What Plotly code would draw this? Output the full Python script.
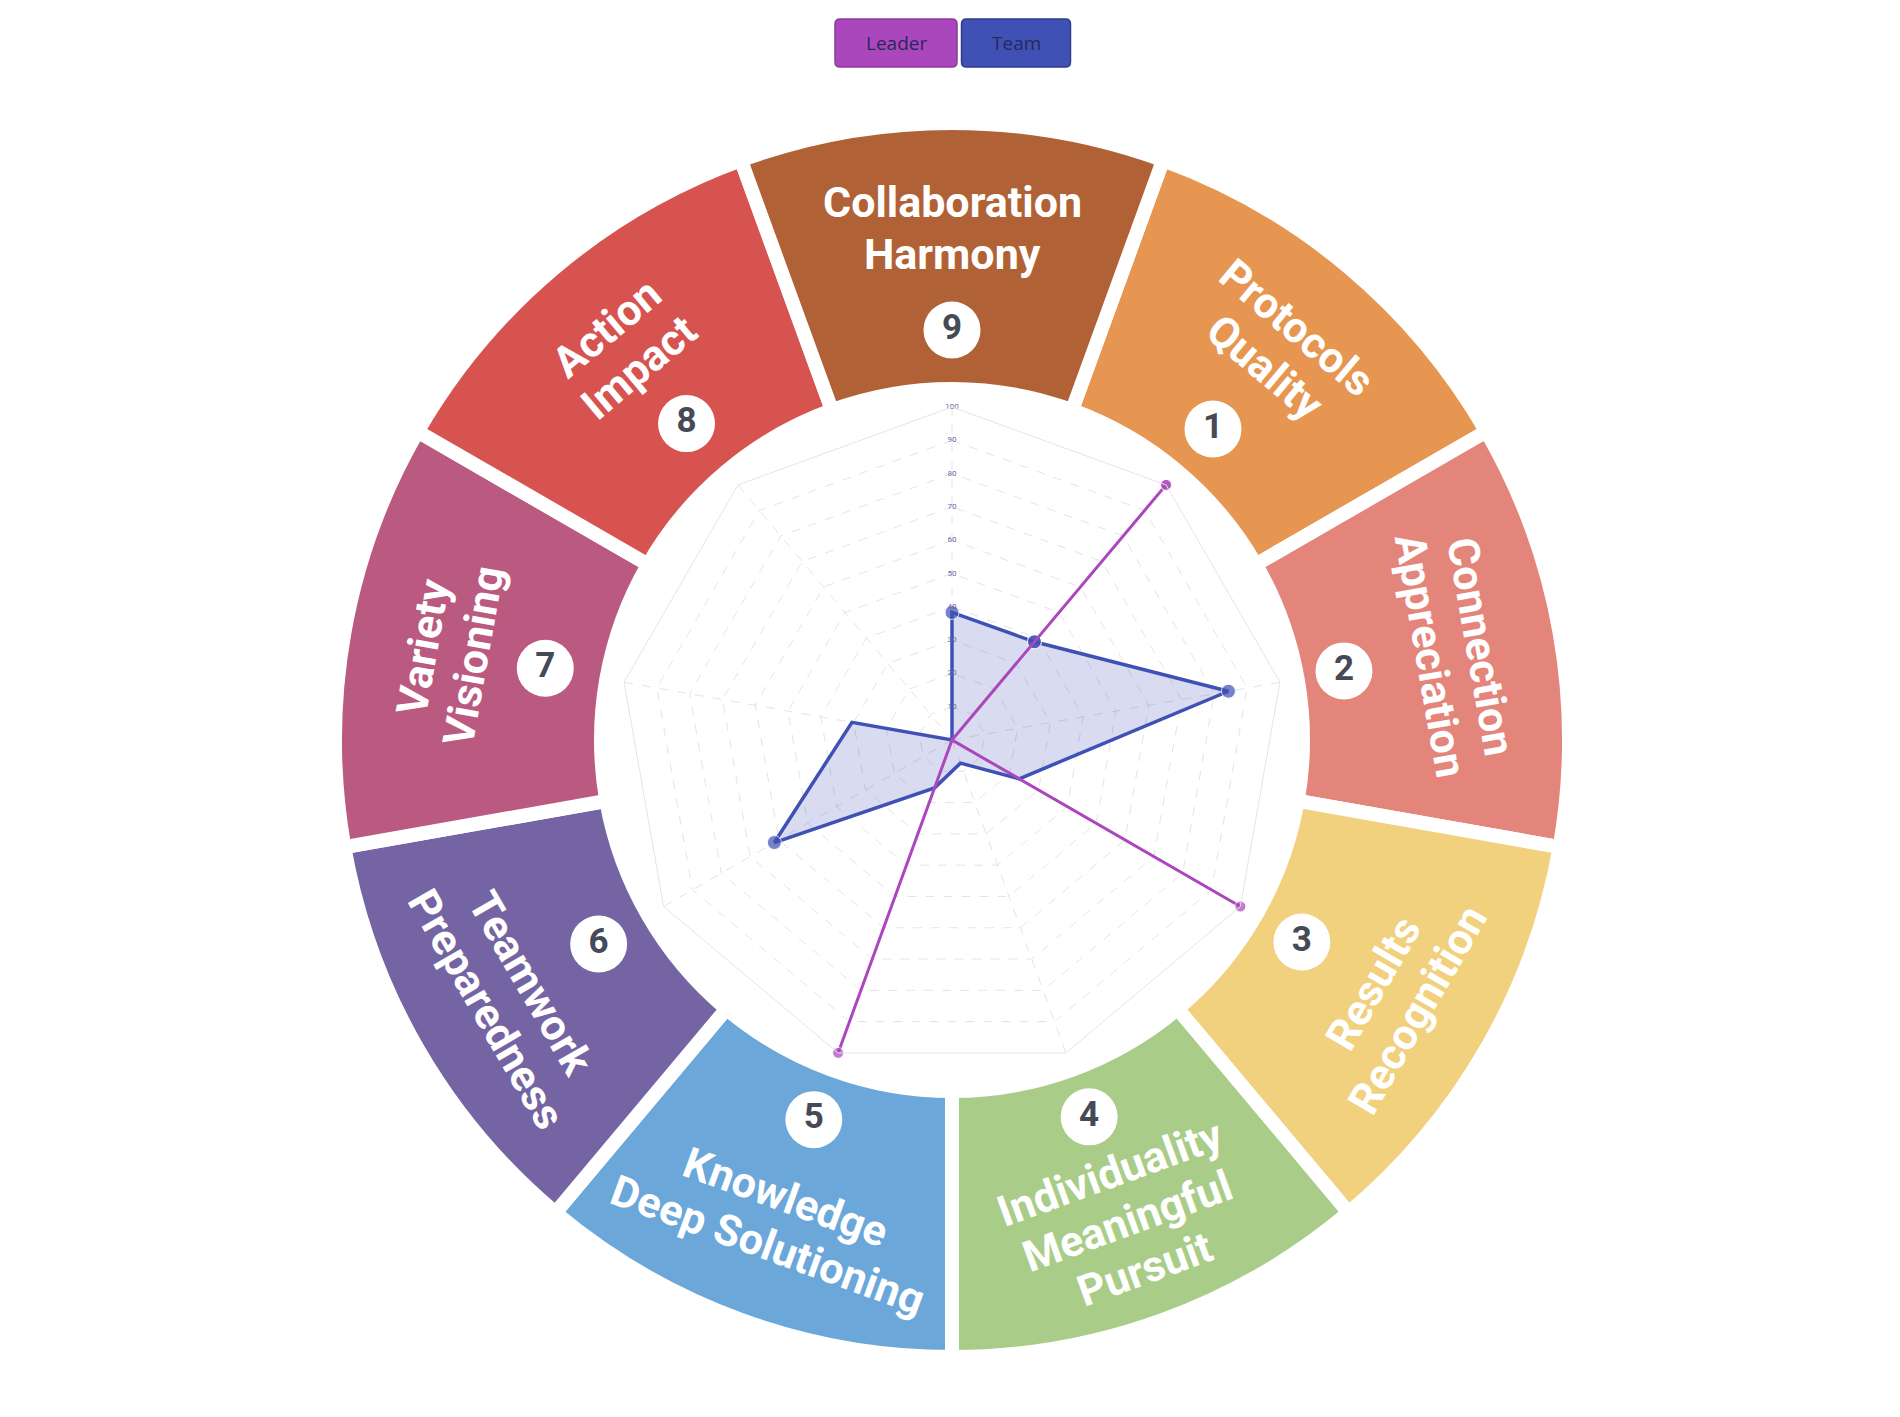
import math
import plotly.graph_objects as go

# ---------------- data ----------------
categories = [
    "Protocols Quality", "Connection Appreciation", "Results Recognition",
    "Individuality Meaningful Pursuit", "Knowledge Deep Solutioning",
    "Teamwork Preparedness", "Variety Visioning", "Action Impact",
    "Collaboration Harmony",
]
category_numbers = ["1", "2", "3", "4", "5", "6", "7", "8", "9"]
ring_label_lines = [
    ["Protocols", "Quality"],
    ["Connection", "Appreciation"],
    ["Results", "Recognition"],
    ["Individuality", "Meaningful", "Pursuit"],
    ["Knowledge", "Deep Solutioning"],
    ["Teamwork", "Preparedness"],
    ["Variety", "Visioning"],
    ["Action", "Impact"],
    ["Collaboration", "Harmony"],
]
ring_colors = ["#E69651", "#E4857B", "#F1D07E", "#A9CD88", "#6BA7D9",
               "#7464A3", "#BA5A80", "#D6534F", "#B06236"]

leader_values = [100, 0, 100, 0, 100, 0, 0, 0, 0]
team_values = [38.5, 84.3, 23.3, 7.4, 15.3, 61.6, 30.5, 0, 38.3]

radial_tick_values = [10, 20, 30, 40, 50, 60, 70, 80, 90, 100]
radial_tick_labels = ["10", "20", "30", "40", "50", "60", "70", "80", "90", "100"]

button_labels = ["Leader", "Team"]

# ---------------- styles / layout constants ----------------
W, H = 1900, 1417
CX, CY = 952, 740
R_RADAR = 333
R_RING = 620
RING_INNER, RING_OUTER = 351, 617
number_radii = [406, 398, 404, 401, 404, 408, 413, 413, 410]
R_TEXT = 512
LINE_GAP = 51
LABEL_FONT_SIZE = 43

LEADER_COLOR = "#AB47BC"
TEAM_COLOR = "#3F51B5"
leader_marker_sizes = [11, 0, 11, 0, 11, 0, 0, 0, 0]
team_marker_sizes = [14, 14, 0, 0, 0, 14, 0, 0, 14]


def domain(r):
    return dict(x=[(CX - r) / W, (CX + r) / W],
                y=[(H - CY - r) / H, (H - CY + r) / H])


fig = go.Figure()

# ring segments
fig.add_trace(go.Barpolar(
    theta=categories,
    r=[RING_OUTER - RING_INNER] * len(categories),
    base=[RING_INNER] * len(categories),
    marker=dict(color=ring_colors, line=dict(color="white", width=14)),
    subplot="polar2", hoverinfo="skip", showlegend=False,
))
# number circles
fig.add_trace(go.Scatterpolar(
    theta=categories, r=number_radii,
    mode="markers+text", text=category_numbers, textposition="middle center",
    textfont=dict(family="Roboto", size=35, color="#464a56", weight="bold"),
    marker=dict(size=57, color="white"),
    subplot="polar2", hoverinfo="skip", showlegend=False,
))

# radar traces (closed polygons)
theta_closed = categories + categories[:1]
fig.add_trace(go.Scatterpolar(
    theta=theta_closed, r=team_values + team_values[:1],
    mode="lines+markers", name="Team", fill="toself",
    fillcolor="rgba(63,81,181,0.2)",
    line=dict(color=TEAM_COLOR, width=3.5),
    marker=dict(color=TEAM_COLOR, size=team_marker_sizes + team_marker_sizes[:1]),
    subplot="polar", showlegend=False,
))
fig.add_trace(go.Scatterpolar(
    theta=theta_closed, r=leader_values + leader_values[:1],
    mode="lines+markers", name="Leader",
    line=dict(color=LEADER_COLOR, width=3),
    marker=dict(color=LEADER_COLOR, size=leader_marker_sizes + leader_marker_sizes[:1]),
    subplot="polar", showlegend=False,
))
# radial tick labels on the top spoke
fig.add_trace(go.Scatterpolar(
    theta=[categories[-1]] * len(radial_tick_values), r=radial_tick_values,
    mode="text", text=radial_tick_labels, textposition="middle center",
    textfont=dict(family="Roboto", size=8, color="#6a6aa8"),
    subplot="polar", hoverinfo="skip", showlegend=False,
))

angular_common = dict(type="category", categoryorder="array", categoryarray=categories,
                      rotation=50, direction="clockwise")

annotations = []
n = len(categories)
for i, lines in enumerate(ring_label_lines):
    theta = (360.0 / n * (i + 1)) % 360
    if 90 < theta < 270:
        angle = theta - 180
        sign = -1
    else:
        angle = theta if theta <= 180 else theta - 360
        sign = 1
    m = len(lines)
    rad = math.radians(theta)
    for j, line in enumerate(lines):
        r = R_TEXT + sign * ((m - 1) / 2 - j) * LINE_GAP
        px = CX + r * math.sin(rad)
        py = CY - r * math.cos(rad)
        annotations.append(dict(
            x=px / W, y=1 - py / H, xref="paper", yref="paper",
            text=f"<b>{line}</b>", showarrow=False, textangle=angle,
            xanchor="center", yanchor="middle",
            font=dict(family="Roboto", size=LABEL_FONT_SIZE, color="white"),
        ))

# legend-like buttons (rounded rectangles + labels)
shapes = []
button_specs = [(896, 122, LEADER_COLOR, "#8e3a9e"), (1016, 109, TEAM_COLOR, "#2f3e8f")]
BTN_CY, BTN_H, BTN_R = 43, 48, 5
for label, (bx, bw, bg, bc) in zip(button_labels, button_specs):
    x0, x1 = bx - bw / 2, bx + bw / 2
    y0, y1 = BTN_CY - BTN_H / 2, BTN_CY + BTN_H / 2

    def P(x, y):
        return f"{x / W:.6f},{1 - y / H:.6f}"
    path = (f"M {P(x0 + BTN_R, y0)} L {P(x1 - BTN_R, y0)} Q {P(x1, y0)} {P(x1, y0 + BTN_R)} "
            f"L {P(x1, y1 - BTN_R)} Q {P(x1, y1)} {P(x1 - BTN_R, y1)} "
            f"L {P(x0 + BTN_R, y1)} Q {P(x0, y1)} {P(x0, y1 - BTN_R)} "
            f"L {P(x0, y0 + BTN_R)} Q {P(x0, y0)} {P(x0 + BTN_R, y0)} Z")
    shapes.append(dict(type="path", path=path, xref="paper", yref="paper",
                       fillcolor=bg, line=dict(color=bc, width=1.5), layer="above"))
    annotations.append(dict(
        x=bx / W, y=1 - BTN_CY / H, xref="paper", yref="paper",
        text=label, showarrow=False, xanchor="center", yanchor="middle",
        font=dict(family="Open Sans", size=19, color="#28285a"),
    ))

fig.update_layout(
    width=W, height=H, margin=dict(l=0, r=0, t=0, b=0),
    paper_bgcolor="white", plot_bgcolor="white", showlegend=False,
    polar=dict(
        domain=domain(R_RADAR), bgcolor="rgba(0,0,0,0)", gridshape="linear",
        radialaxis=dict(range=[0, 100], tickvals=radial_tick_values, showticklabels=False,
                        ticks="", showline=False, gridcolor="#e4e4e4", griddash="dash",
                        gridwidth=1),
        angularaxis=dict(**angular_common, showticklabels=False, ticks="",
                         showline=True, linecolor="#e4e4e4", linewidth=1,
                         gridcolor="#e4e4e4", griddash="dash"),
    ),
    polar2=dict(
        domain=domain(R_RING), bgcolor="rgba(0,0,0,0)", bargap=0,
        radialaxis=dict(range=[0, R_RING], visible=False),
        angularaxis=dict(**angular_common, visible=False, showgrid=False),
    ),
    shapes=shapes,
    annotations=annotations,
)

fig.write_html("out.html")
